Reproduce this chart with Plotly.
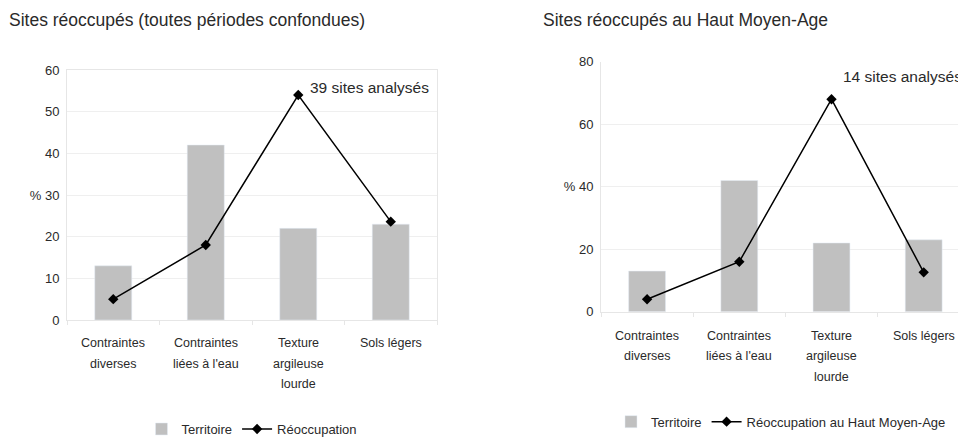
import plotly.graph_objects as go

# ---- data ----
categories = ["Contraintes diverses", "Contraintes liées à l'eau", "Texture argileuse lourde", "Sols légers"]
category_lines = [["Contraintes", "diverses"], ["Contraintes", "liées à l'eau"], ["Texture", "argileuse", "lourde"], ["Sols légers"]]
territoire = [13, 42, 22, 23]
reoccupation_all = [5, 18, 54, 23.6]
reoccupation_hma = [4, 16, 68, 12.6]

left_title = "Sites réoccupés (toutes périodes confondues)"
right_title = "Sites réoccupés au Haut Moyen-Age"
left_note = "39 sites analysés"
right_note = "14 sites analysés"
left_ticks = [0, 10, 20, 30, 40, 50, 60]
left_ticktext = ["0", "10", "20", "% 30", "40", "50", "60"]
right_ticks = [0, 20, 40, 60, 80]
right_ticktext = ["0", "20", "% 40", "60", "80"]

FONT = "Liberation Sans, Arial, sans-serif"
TXT = "#2a2a2a"
BAR = "#c0c0c0"
GRID = "#efefef"
BORDER = "#e6e6e6"

fig = go.Figure()

fig.add_trace(go.Bar(x=categories, y=territoire, name="Territoire", marker_color=BAR,
                     width=0.4, xaxis="x", yaxis="y", legend="legend"))
fig.add_trace(go.Scatter(x=categories, y=reoccupation_all, name="Réoccupation", mode="lines+markers",
                         line=dict(color="black", width=1.5),
                         marker=dict(symbol="diamond", size=8, color="black"),
                         xaxis="x", yaxis="y", legend="legend"))
fig.add_trace(go.Bar(x=categories, y=territoire, name="Territoire", marker_color=BAR,
                     width=0.4, xaxis="x2", yaxis="y2", legend="legend2"))
fig.add_trace(go.Scatter(x=categories, y=reoccupation_hma, name="Réoccupation au Haut Moyen-Age",
                         mode="lines+markers",
                         line=dict(color="black", width=1.5),
                         marker=dict(symbol="diamond", size=8, color="black"),
                         xaxis="x2", yaxis="y2", legend="legend2"))

W, H = 958, 437
# plot-area geometry (pixels)
L1, R1, T1, B1 = 67, 437, 70, 320
L2, T2, B2 = 601, 61.7, 311.7
step2 = 92.2
r2 = -0.5 + (W - L2) / step2

common_x = dict(type="category", showgrid=False, showticklabels=False, ticks="outside",
                tickson="boundaries", ticklen=4, tickcolor=BORDER, showline=True,
                linecolor=BORDER, linewidth=1, zeroline=False)
common_y = dict(showgrid=True, gridcolor=GRID, gridwidth=1, zeroline=False,
                tickfont=dict(family=FONT, size=13, color=TXT), ticks="", showline=True,
                linecolor=BORDER, linewidth=1, ticklabelstandoff=4)

fig.update_layout(
    width=W, height=H, autosize=False,
    margin=dict(l=0, r=0, t=0, b=0, pad=0, autoexpand=False),
    paper_bgcolor="white", plot_bgcolor="white",
    font=dict(family=FONT, color=TXT),
    bargap=0.6,
    xaxis=dict(domain=[L1 / W, R1 / W], range=[-0.5, 3.5], mirror=True, anchor="y", **common_x),
    yaxis=dict(domain=[1 - B1 / H, 1 - T1 / H], range=[0, 60], tickvals=left_ticks,
               ticktext=left_ticktext, mirror=True, anchor="x", **common_y),
    xaxis2=dict(domain=[L2 / W, 1.0], range=[-0.5, r2], anchor="y2", **common_x),
    yaxis2=dict(domain=[1 - B2 / H, 1 - T2 / H], range=[0, 80], tickvals=right_ticks,
                ticktext=right_ticktext, anchor="x2", **common_y),
    legend=dict(orientation="h", x=252 / W, xanchor="center", y=1 - 429 / H, yanchor="middle",
                font=dict(family=FONT, size=13, color=TXT), itemwidth=30, bgcolor="rgba(0,0,0,0)",
                traceorder="normal"),
    legend2=dict(orientation="h", x=781 / W, xanchor="center", y=1 - 421.7 / H, yanchor="middle",
                 font=dict(family=FONT, size=13, color=TXT), itemwidth=30, bgcolor="rgba(0,0,0,0)",
                 traceorder="normal"),
    showlegend=True,
)

annotations = [
    dict(text=left_title, xref="paper", yref="paper", x=7 / W, y=1 - 20 / H, xanchor="left",
         yanchor="middle", showarrow=False, font=dict(family=FONT, size=17.5, color=TXT)),
    dict(text=right_title, xref="paper", yref="paper", x=541 / W, y=1 - 20 / H, xanchor="left",
         yanchor="middle", showarrow=False, font=dict(family=FONT, size=17.5, color=TXT)),
    dict(text=left_note, xref="paper", yref="paper", x=308 / W, y=1 - 87 / H, xanchor="left",
         yanchor="middle", showarrow=False, font=dict(family=FONT, size=15.5, color=TXT)),
    dict(text=right_note, xref="paper", yref="paper", x=841 / W, y=1 - 76 / H, xanchor="left",
         yanchor="middle", showarrow=False, font=dict(family=FONT, size=15.5, color=TXT)),
]
for xr, yr, first in (("x", "y domain", 23), ("x2", "y2 domain", 24)):
    for cat, lines in zip(categories, category_lines):
        for i, ln in enumerate(lines):
            annotations.append(dict(text=ln, xref=xr, yref=yr, x=cat, y=0, yshift=-(first + 20.5 * i),
                                    xanchor="center", yanchor="middle", showarrow=False,
                                    font=dict(family=FONT, size=12.5, color=TXT)))
fig.update_layout(annotations=annotations)

page_fix = "document.body.style.margin='0';document.body.style.padding='0';"
fig.write_html("out.html", config={"displayModeBar": False}, post_script=page_fix)
